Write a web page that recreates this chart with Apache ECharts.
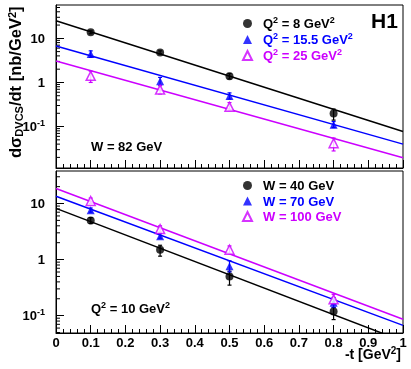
<!DOCTYPE html>
<html><head><meta charset="utf-8">
<script src="https://cdn.jsdelivr.net/npm/echarts@6/dist/echarts.min.js"></script>
<style>html,body{margin:0;padding:0;background:#fff}#c{width:411px;height:369px}</style>
</head><body><div id="c"></div>
<script>
// -t values of measured points
const tValues = [0.1, 0.3, 0.5, 0.8];
// fit lines evaluated at -t = 0 and -t = 1
const fitT = [0, 1];

// ---- top panel: W = 82 GeV ----
const q8Val = [13.7, 4.8, 1.39, 0.197];
const q8Lo  = [12.7, 4.45, 1.2, 0.14];
const q8Hi  = [14.8, 5.2, 1.6, 0.25];
const q8Fit = [25, 0.077];

const q15Val = [4.4, 1.07, 0.49, 0.11];
const q15Lo  = [3.7, 0.85, 0.42, 0.095];
const q15Hi  = [5.2, 1.3, 0.58, 0.13];
const q15Fit = [6.7, 0.04];

const q25Val = [1.41, 0.69, 0.28, 0.042];
const q25Lo  = [1.0, 0.55, 0.23, 0.028];
const q25Hi  = [1.8, 0.85, 0.35, 0.055];
const q25Fit = [3.05, 0.0197];

// ---- bottom panel: Q^2 = 10 GeV^2 ----
const w40Val = [5.0, 1.5, 0.50, 0.118];
const w40Lo  = [4.4, 1.15, 0.35, 0.085];
const w40Hi  = [5.6, 1.8, 0.62, 0.14];
const w40Fit = [8.2, 0.035];

const w70Val = [7.6, 2.6, 0.76, 0.17];
const w70Lo  = [7.0, 2.4, 0.6, 0.14];
const w70Hi  = [8.3, 2.9, 0.95, 0.21];
const w70Fit = [13.5, 0.067];

const w100Val = [11.1, 3.5, 1.5, 0.195];
const w100Lo  = [10.0, 3.1, 1.3, 0.16];
const w100Hi  = [12.5, 4.0, 1.75, 0.24];
const w100Fit = [18.5, 0.086];

const yMinorMantissa = [2, 3, 4, 5, 6, 7, 8, 9];
const yDecades = [0.01, 0.1, 1, 10];

const topRange = [0.0115, 57];
const botRange = [0.049, 38];

const BLACK = '#000000', BLUE = '#0000ff', MAG = '#cc00ff';
const FONT = 'Liberation Sans';

const legendTop = {q8: ['Q', '2', ' = 8 GeV', '2'], q15: ['Q', '2', ' = 15.5 GeV', '2'], q25: ['Q', '2', ' = 25 GeV', '2']};
const legendBot = {w40: ['W = 40 GeV'], w70: ['W = 70 GeV'], w100: ['W = 100 GeV']};

function richFor(color, key) {
  const o = {};
  o[key + 'f'] = {fontFamily: FONT, fontWeight: 'bold', fontSize: 13, color: color, verticalAlign: 'bottom', lineHeight: 15, padding: [0, 0, 0, 6]};
  o[key + 'b'] = {fontFamily: FONT, fontWeight: 'bold', fontSize: 13, color: color, verticalAlign: 'bottom', lineHeight: 15};
  o[key + 's'] = {fontFamily: FONT, fontWeight: 'bold', fontSize: 9, color: color, verticalAlign: 'bottom', lineHeight: 15, padding: [0, 0, 6, 0]};
  return o;
}
const legendRich = Object.assign({}, richFor(BLACK, 'k'), richFor(BLUE, 'u'), richFor(MAG, 'm'));
const colorKey = {q8: 'k', q15: 'u', q25: 'm', w40: 'k', w70: 'u', w100: 'm'};
function fmtLegend(name) {
  const parts = legendTop[name] || legendBot[name];
  const k = colorKey[name];
  let s = '';
  parts.forEach((p, i) => {
    if (i === 0) s += '{' + k + 'f|' + p + '}';
    else if (i % 2 === 1) s += '{' + k + 's|' + p + '}';
    else s += '{' + k + 'b|' + p + '}';
  });
  return s;
}

function pts(vals) { return tValues.map((t, i) => [t, vals[i]]); }
function fit(vals) { return fitT.map((t, i) => [t, vals[i]]); }
function errs(lo, hi) { return tValues.map((t, i) => [t, lo[i], hi[i]]); }
function minorTicks(range) {
  const out = [];
  yDecades.forEach(d => yMinorMantissa.forEach(m => {
    const v = d * m;
    if (v > range[0] && v < range[1]) out.push([0, v]);
  }));
  return out;
}

function errSeries(lo, hi, color, gi) {
  return {
    type: 'custom', xAxisIndex: gi, yAxisIndex: gi, silent: true, z: 3,
    data: errs(lo, hi),
    renderItem: function (params, api) {
      const a = api.coord([api.value(0), api.value(1)]);
      const b = api.coord([api.value(0), api.value(2)]);
      const c = 2;
      return {type: 'group', children: [
        {type: 'line', shape: {x1: a[0], y1: a[1], x2: b[0], y2: b[1]}, style: {stroke: color, lineWidth: 1.2}},
        {type: 'line', shape: {x1: a[0] - c, y1: a[1], x2: a[0] + c, y2: a[1]}, style: {stroke: color, lineWidth: 1.2}},
        {type: 'line', shape: {x1: b[0] - c, y1: b[1], x2: b[0] + c, y2: b[1]}, style: {stroke: color, lineWidth: 1.2}}
      ]};
    }
  };
}
function minorSeries(range, gi) {
  return {
    type: 'custom', xAxisIndex: gi, yAxisIndex: gi, silent: true, z: 1,
    data: minorTicks(range),
    renderItem: function (params, api) {
      const p = api.coord([api.value(0), api.value(1)]);
      return {type: 'line', shape: {x1: p[0], y1: p[1], x2: p[0] + 4, y2: p[1]}, style: {stroke: '#000', lineWidth: 1}};
    }
  };
}
function fitSeries(vals, color, gi) {
  return {type: 'line', xAxisIndex: gi, yAxisIndex: gi, data: fit(vals), symbol: 'none', silent: true, z: 2,
    lineStyle: {color: color, width: 1.5}, clip: true};
}
function ptSeries(name, vals, color, symbol, open, gi, size) {
  return {type: 'scatter', name: name, xAxisIndex: gi, yAxisIndex: gi, data: pts(vals), symbol: symbol, symbolSize: size, z: 4,
    symbolKeepAspect: true,
    itemStyle: open ? {color: '#ffffff', borderColor: color, borderWidth: 1.5} : {color: color}};
}

function yLabel(v) {
  const l = Math.log10(v);
  const e = Math.round(l);
  if (Math.abs(l - e) > 1e-6) return '';
  if (e === 0) return '{b|1}';
  if (e === 1) return '{b|10}';
  return '{b|10}{s|' + e + '}';
}
const axisRich = {
  b: {fontFamily: FONT, fontWeight: 'bold', fontSize: 13, color: '#000', verticalAlign: 'bottom', lineHeight: 15},
  s: {fontFamily: FONT, fontWeight: 'bold', fontSize: 9, color: '#000', verticalAlign: 'bottom', lineHeight: 15, padding: [0, 0, 6, 0]}
};
const titleRich = {
  b: {fontFamily: FONT, fontWeight: 'bold', fontSize: 14, color: '#000', verticalAlign: 'bottom', lineHeight: 16},
  s: {fontFamily: FONT, fontWeight: 'bold', fontSize: 10, color: '#000', verticalAlign: 'bottom', lineHeight: 16, padding: [0, 0, 6, 0]}
};

function xAxisCfg(gi, showLabels) {
  return {
    type: 'value', gridIndex: gi, min: 0, max: 1, interval: 0.1,
    axisLine: {show: true, onZero: false, lineStyle: {color: '#000', width: 1}},
    axisTick: {show: true, inside: true, length: 8, lineStyle: {color: '#000'}},
    minorTick: {show: true, splitNumber: 5, length: 4, lineStyle: {color: '#000'}},
    splitLine: {show: false},
    axisLabel: {show: showLabels, margin: 4, fontFamily: FONT, fontWeight: 'bold', fontSize: 13, color: '#000',
      showMinLabel: true, showMaxLabel: true}
  };
}
function yAxisCfg(gi, range) {
  return {
    type: 'log', logBase: 10, gridIndex: gi, min: range[0], max: range[1],
    axisLine: {show: true, lineStyle: {color: '#000', width: 1}},
    axisTick: {show: true, inside: true, length: 8, lineStyle: {color: '#000'}},
    minorTick: {show: false},
    splitLine: {show: false},
    axisLabel: {show: true, margin: 11, formatter: yLabel, rich: axisRich, showMinLabel: false, showMaxLabel: false}
  };
}

const chart = echarts.init(document.getElementById('c'), null, {renderer: 'canvas'});
chart.setOption({
  animation: false,
  backgroundColor: '#ffffff',
  grid: [
    {left: 56, right: 8, top: 5, height: 163, show: true, borderColor: '#000', borderWidth: 1, backgroundColor: 'transparent'},
    {left: 56, right: 8, top: 171, height: 162, show: true, borderColor: '#000', borderWidth: 1, backgroundColor: 'transparent'}
  ],
  xAxis: [xAxisCfg(0, false), xAxisCfg(1, true)],
  yAxis: [yAxisCfg(0, topRange), yAxisCfg(1, botRange)],
  legend: [
    {orient: 'vertical', left: 242, top: 16, padding: 0, itemWidth: 9, itemHeight: 9, itemGap: 1, selectedMode: false,
      symbolKeepAspect: true,
      data: ['q8', 'q15', 'q25'], formatter: fmtLegend, textStyle: {rich: legendRich}},
    {orient: 'vertical', left: 242, top: 180, padding: 0, itemWidth: 9, itemHeight: 9, itemGap: 2.5, selectedMode: false,
      symbolKeepAspect: true,
      data: ['w40', 'w70', 'w100'], formatter: fmtLegend, textStyle: {rich: legendRich}}
  ],
  graphic: [
    {type: 'text', left: 371, top: 12, style: {text: 'H1', font: 'bold 21px "Liberation Sans"', fill: '#000'}},
    {type: 'text', left: 91, top: 141, style: {text: 'W = 82 GeV', font: 'bold 13px "Liberation Sans"', fill: '#000'}},
    {type: 'text', left: 91, top: 301, style: {text: '{b|Q}{s|2}{b| = 10 GeV}{s|2}', rich: axisRich}},
    {type: 'text', right: 10, top: 346, style: {text: '{b|-t [GeV}{s|2}{b|]}', rich: titleRich}},
    {type: 'text', x: 7, y: 158, rotation: Math.PI / 2,
      style: {text: '{t|d\u03c3}{u|DVCS}{t|/dt [nb/GeV}{p|2}{t|]}', rich: {
        t: {fontFamily: FONT, fontWeight: 'bold', fontSize: 16.5, color: '#000', verticalAlign: 'bottom', lineHeight: 18},
        u: {fontFamily: FONT, fontWeight: 'bold', fontSize: 11, color: '#000', verticalAlign: 'bottom', lineHeight: 18},
        p: {fontFamily: FONT, fontWeight: 'bold', fontSize: 11, color: '#000', verticalAlign: 'bottom', lineHeight: 18, padding: [0, 0, 7, 0]}
      }}}
  ],
  series: [
    minorSeries(topRange, 0), minorSeries(botRange, 1),
    fitSeries(q8Fit, BLACK, 0), fitSeries(q15Fit, BLUE, 0), fitSeries(q25Fit, MAG, 0),
    fitSeries(w40Fit, BLACK, 1), fitSeries(w70Fit, BLUE, 1), fitSeries(w100Fit, MAG, 1),
    errSeries(q8Lo, q8Hi, BLACK, 0), errSeries(q15Lo, q15Hi, BLUE, 0), errSeries(q25Lo, q25Hi, MAG, 0),
    errSeries(w40Lo, w40Hi, BLACK, 1), errSeries(w70Lo, w70Hi, BLUE, 1), errSeries(w100Lo, w100Hi, MAG, 1),
    ptSeries('q8', q8Val, BLACK, 'circle', false, 0, 8),
    ptSeries('q15', q15Val, BLUE, 'triangle', false, 0, 8),
    ptSeries('q25', q25Val, MAG, 'triangle', true, 0, 9),
    ptSeries('w40', w40Val, BLACK, 'circle', false, 1, 8),
    ptSeries('w70', w70Val, BLUE, 'triangle', false, 1, 8),
    ptSeries('w100', w100Val, MAG, 'triangle', true, 1, 9)
  ]
});
</script>
</body></html>
